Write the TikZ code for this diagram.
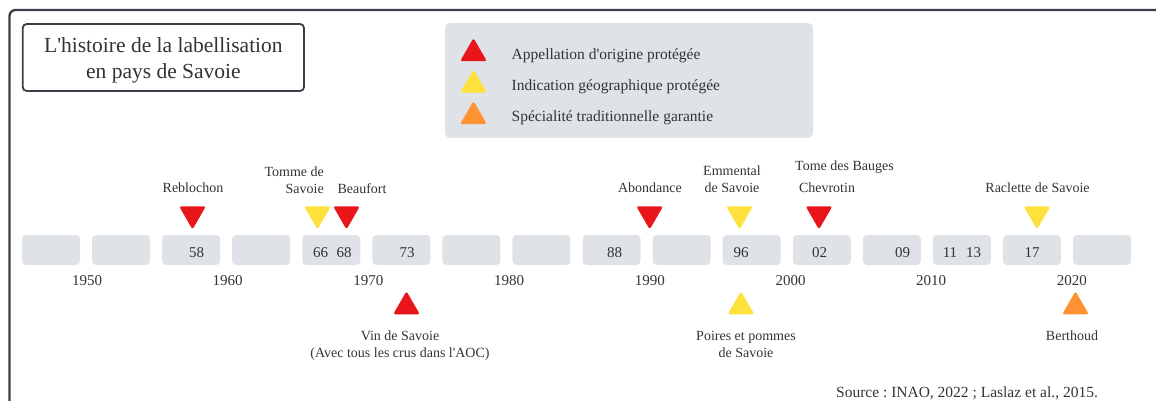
\documentclass[tikz,border=0pt]{standalone}
\usepackage{fontspec}
\setmainfont{Liberation Serif}[Ligatures=TeXOff]
\usetikzlibrary{shapes.geometric,positioning}
\frenchspacing

\definecolor{aopred}{HTML}{E8161A}
\definecolor{igpyellow}{HTML}{FFE13E}
\definecolor{stgorange}{HTML}{FF9233}
\definecolor{slotgray}{HTML}{DFE2E7}
\definecolor{framegray}{HTML}{3B3F47}
\definecolor{textgray}{HTML}{333333}

\begin{document}
\begin{tikzpicture}[x=1pt, y=-1pt,
  every node/.style={text=textgray, inner sep=0pt},
  slot/.style={fill=slotgray, rounded corners=4pt, minimum width=58pt, minimum height=30pt},
  tri/.style={regular polygon, regular polygon sides=3, minimum size=31pt, rounded corners=2.5pt},
  tridown/.style={tri, shape border rotate=180},
  aop/.style={fill=aopred}, igp/.style={fill=igpyellow}, stg/.style={fill=stgorange},
  lbl/.style={font=\fontsize{14}{17}\selectfont, align=center, anchor=base},
  num/.style={font=\fontsize{15}{18}\selectfont, anchor=base}]
\useasboundingbox (0,0) rectangle (1156,401);
\clip (0,0) rectangle (1156,401);
\draw[framegray, line width=2.3pt, rounded corners=6pt] (9.5,420) -- (9.5,10) -- (1170,10);

% title and legend
\draw[framegray, line width=1.8pt, rounded corners=4pt] (22.7,24) rectangle (304,91);
\node[font=\fontsize{21.5}{26}\selectfont, align=center, anchor=base] (title) at (163.4,79) {L'histoire de la labellisation\\en pays de Savoie};
\node[fill=slotgray, rounded corners=5pt, minimum width=368pt, minimum height=115pt] (legend) at (629,80.5) {};
\foreach \c/\t [count=\k] in {aop/Appellation d'origine protégée, igp/Indication géographique protégée, stg/Spécialité traditionnelle garantie}
{
\node[tri, \c] (key\k) at (473.5,{53.5+31.5*(\k-1)}) {};
\node[font=\fontsize{15.5}{18}\selectfont, anchor=base west] (keytext\k) at (511.5,{60+31*(\k-1)}) {\t};
}

% timeline
\foreach \i in {0,...,15}
\node[slot] (slot\i) at ({51+70.07*\i},250) {};
\foreach \y [count=\k from 0] in {1950,1960,...,2020}
\node[num] (y\y) at ({87+140.7*\k},285) {\y};
\foreach \n/\x in {58/196.5, 66/320.5, 68/344, 73/407, 88/614.5, 96/741, 02/819.5, 09/902.5, 11/950, 13/973.5, 17/1032}
\node[num] (n\n) at (\x,257) {\n};

% markers above
\node[tridown, aop] (reblochon) at (192.5,214) {};
\node[tridown, igp] (tomme) at (317.5,214) {};
\node[tridown, aop] (beaufort) at (346.5,214) {};
\node[tridown, aop] (abondance) at (649.7,214) {};
\node[tridown, igp] (emmental) at (739.5,214) {};
\node[tridown, aop] (chevrotin) at (819,214) {};
\node[tridown, igp] (raclette) at (1037,214) {};
\node[lbl] (reblochon-l) at (193,192.5) {Reblochon};
\node[lbl, align=right, anchor=base east] (tomme-l) at (324,193.5) {Tomme de\\Savoie};
\node[lbl] (beaufort-l) at (362,193.5) {Beaufort};
\node[lbl] (abondance-l) at (650,192.5) {Abondance};
\node[lbl] (emmental-l) at (732,192.5) {Emmental\\de Savoie};
\node[lbl] (bauges-l) at (844.5,170) {Tome des Bauges};
\node[lbl] (chevrotin-l) at (827,192.5) {Chevrotin};
\node[lbl] (raclette-l) at (1037.5,192.5) {Raclette de Savoie};

% markers below
\node[tri, aop] (vin) at (406.5,306.7) {};
\node[tri, igp] (poires) at (741,306.7) {};
\node[tri, stg] (berthoud) at (1075.5,306.7) {};
\node[lbl] (vin-l) at (400,357) {Vin de Savoie\\(Avec tous les crus dans l'AOC)};
\node[lbl] (poires-l) at (746,357) {Poires et pommes\\de Savoie};
\node[lbl] (berthoud-l) at (1072,340) {Berthoud};

\node[font=\fontsize{15.5}{18}\selectfont, anchor=base] (source) at (967,397) {Source : INAO, 2022 ; Laslaz et al., 2015.};
\end{tikzpicture}
\end{document}
